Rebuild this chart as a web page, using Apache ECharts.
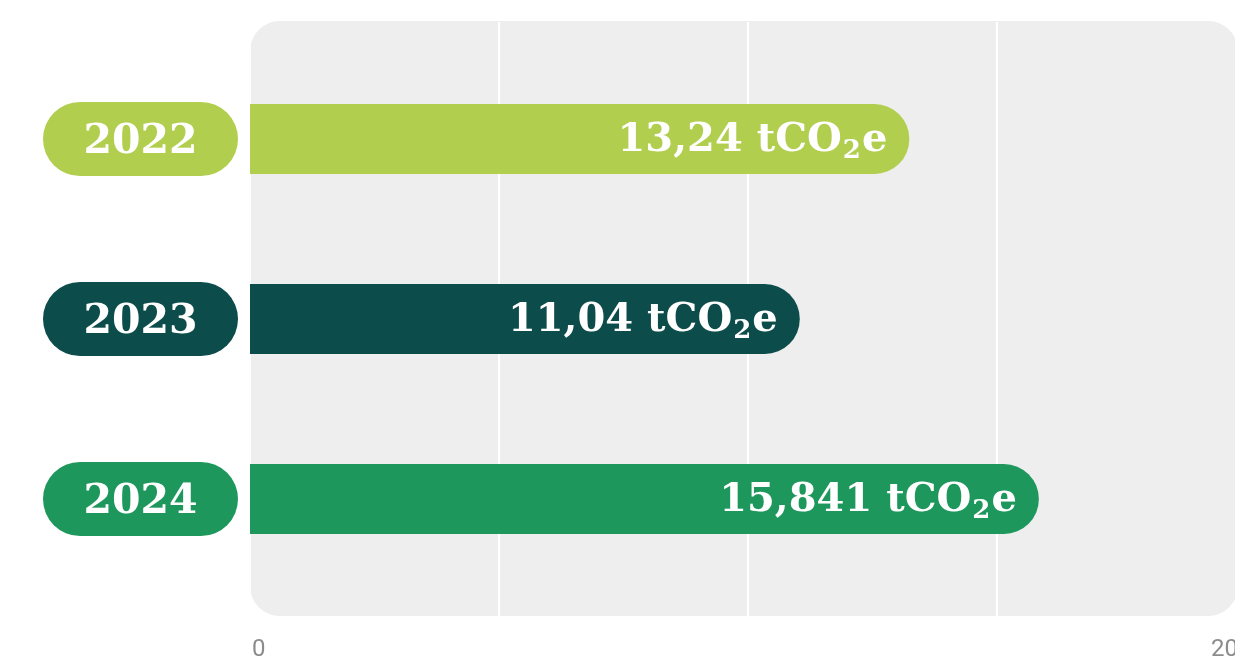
<!DOCTYPE html>
<html>
<head>
<meta charset="utf-8">
<style>
  html, body { margin: 0; padding: 0; background: #ffffff; }
  #chart { width: 1235px; height: 664px; }
</style>
<script src="https://cdn.jsdelivr.net/npm/echarts@6/dist/echarts.min.js"></script>
</head>
<body>
<div id="chart"></div>
<script>
// Emissions per year, in tCO2e
const years = ['2022', '2023', '2024'];
const emissions = [13.24, 11.04, 15.841];
const yearColors = ['#b1ce4f', '#0c4c4a', '#1e975d'];
const axisTicks = [0, 20];

const chart = echarts.init(document.getElementById('chart'), null, { renderer: 'canvas' });

const labelFont = '"DejaVu Serif", serif';

// one rich style per year so each pill takes its bar colour
const pillStyles = {};
years.forEach((y, i) => {
  pillStyles['p' + i] = {
    backgroundColor: yearColors[i],
    borderRadius: 37,
    width: 195,
    height: 68,
    align: 'center',
    color: '#ffffff',
    fontFamily: labelFont,
    fontWeight: 'bold',
    fontSize: 41,
    padding: [6, 0, 0, 0]
  };
});

const fmt = v => String(v).replace('.', ',');

const valueText = {
  color: '#ffffff',
  fontFamily: labelFont,
  fontWeight: 'bold',
  fontSize: 40
};

const tickText = {
  color: '#8c8c8c',
  fontSize: 24,
  fontFamily: 'Roboto, sans-serif',
  fontWeight: 'normal'
};

chart.setOption({
  animation: false,
  graphic: [{
    type: 'rect',
    z: -10,
    silent: true,
    shape: { x: 250, y: 21, width: 988, height: 595, r: 30 },
    style: { fill: '#eeeeee' }
  }],
  grid: [
    { left: 250, right: -11, top: 22, bottom: 48, outerBoundsMode: 'none', containLabel: false },
    { left: 250, right: -11, top: 49, bottom: 75, outerBoundsMode: 'none', containLabel: false }
  ],
  xAxis: [
    {
      gridIndex: 0, type: 'value', min: 0, max: 20, interval: 5,
      axisLine: { show: false }, axisTick: { show: false },
      splitLine: { show: true, lineStyle: { color: '#ffffff', width: 2 } },
      axisLabel: {
        margin: 22,
        alignMinLabel: 'left',
        alignMaxLabel: 'right',
        formatter: v => {
          if (axisTicks.indexOf(v) < 0) return '';
          return (v === 0 ? '{lo|' : '{hi|') + v + '}';
        },
        rich: {
          lo: Object.assign({}, tickText, { padding: [0, 0, 0, 2] }),
          hi: Object.assign({}, tickText, { padding: [0, 8, 0, 0] })
        }
      }
    },
    {
      gridIndex: 1, type: 'value', min: 0, max: 20, show: false
    }
  ],
  yAxis: [
    { gridIndex: 0, type: 'category', data: years, show: false },
    {
      gridIndex: 1, type: 'category', data: years, inverse: true,
      axisLine: { show: false }, axisTick: { show: false },
      axisLabel: {
        margin: 12,
        formatter: (v, i) => '{p' + i + '|' + v + '}',
        rich: pillStyles
      }
    }
  ],
  series: [{
    type: 'bar',
    xAxisIndex: 1,
    yAxisIndex: 1,
    barWidth: 70,
    data: emissions.map((v, i) => ({
      value: v,
      itemStyle: { color: yearColors[i], borderRadius: [0, 35, 35, 0] }
    })),
    label: {
      show: true,
      position: 'insideRight',
      distance: 22,
      formatter: p => '{m|' + fmt(p.value) + ' tCO}{s|2}{m|e}',
      rich: {
        m: Object.assign({}, valueText, { padding: [4, 0, 0, 0] }),
        s: Object.assign({}, valueText, { fontSize: 26, padding: [25, 1, 0, 1] })
      }
    }
  }]
});
</script>
</body>
</html>
